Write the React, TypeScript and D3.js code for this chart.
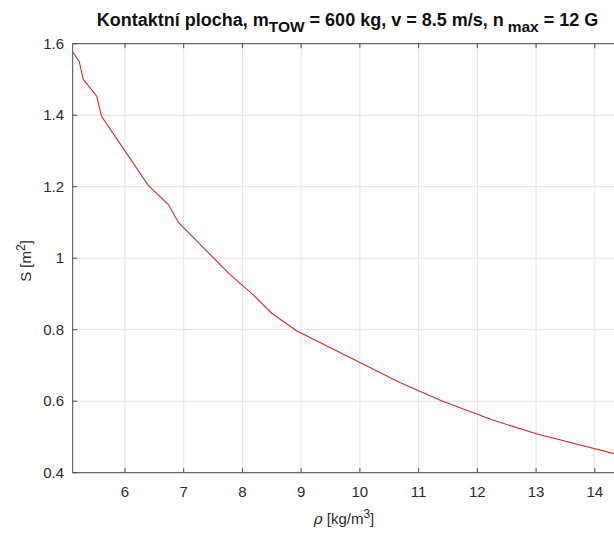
import React from "react";
import * as d3 from "d3";

const rho = [5.11, 5.22, 5.29, 5.52, 5.6, 6.4, 6.74, 6.91, 7.79, 8.18, 8.5, 8.92, 10.68, 11.41, 12.25, 13.02, 14.48];
const S = [1.576, 1.551, 1.5, 1.453, 1.397, 1.203, 1.15, 1.1, 0.954, 0.898, 0.846, 0.797, 0.652, 0.6, 0.548, 0.508, 0.447];
const xTicks = [6, 7, 8, 9, 10, 11, 12, 13, 14];
const yTicks = [0.4, 0.6, 0.8, 1.0, 1.2, 1.4, 1.6];

const W = 614;
const H = 533;
const L = 72.7;
const R = 623;
const T = 43.7;
const B = 472.7;
const FONT = "'Liberation Sans', Arial, Helvetica, sans-serif";

export default function App() {
  const x = d3.scaleLinear().domain([5.11, 14.48]).range([L, R]);
  const y = d3.scaleLinear().domain([0.4, 1.6]).range([B, T]);
  const data = rho.map((r, i) => [r, S[i]] as [number, number]);
  const line = d3
    .line<[number, number]>()
    .x((d) => x(d[0]))
    .y((d) => y(d[1]));
  const axisColor = "#4a4a4a";
  const gridColor = "#e3e3e3";
  const textColor = "#2b2b2b";
  const tick = 4.5;
  const fmt = (v: number) => (Number.isInteger(v) ? String(v) : String(+v.toFixed(1)));
  return (
    <div style={{ position: "fixed", left: 0, top: 0, width: W, height: H, background: "#fff" }}>
      <svg width={W} height={H} style={{ display: "block" }} fontFamily={FONT}>
        <rect x={0} y={0} width={W} height={H} fill="#fff" />
        {xTicks.map((t) => (
          <line key={"gx" + t} x1={x(t)} x2={x(t)} y1={T} y2={B} stroke={gridColor} strokeWidth={1} />
        ))}
        {yTicks.map((t) => (
          <line key={"gy" + t} x1={L} x2={R} y1={y(t)} y2={y(t)} stroke={gridColor} strokeWidth={1} />
        ))}
        <path d={line(data) || ""} fill="none" stroke="#d42b2b" strokeWidth={1.1} />
        <rect x={L} y={T} width={R - L} height={B - T} fill="none" stroke={axisColor} strokeWidth={1} />
        {xTicks.map((t) => (
          <g key={"tx" + t}>
            <line x1={x(t)} x2={x(t)} y1={B} y2={B - tick} stroke={axisColor} />
            <line x1={x(t)} x2={x(t)} y1={T} y2={T + tick} stroke={axisColor} />
            <text x={x(t)} y={497} textAnchor="middle" fontSize={15} fill={textColor}>
              {fmt(t)}
            </text>
          </g>
        ))}
        {yTicks.map((t) => (
          <g key={"ty" + t}>
            <line x1={L} x2={L + tick} y1={y(t)} y2={y(t)} stroke={axisColor} />
            <text x={64} y={y(t) + 5} textAnchor="end" fontSize={15} fill={textColor}>
              {fmt(t)}
            </text>
          </g>
        ))}
        <text x={344} y={524} textAnchor="middle" fontSize={15} fill={textColor}>
          <tspan fontStyle="italic" fontFamily="'DejaVu Serif', 'Liberation Serif', serif">ρ</tspan>
          <tspan> [kg/m</tspan>
          <tspan dy={-6} fontSize={12}>3</tspan>
          <tspan dy={6}>]</tspan>
        </text>
        <text transform="translate(31,261) rotate(-90)" textAnchor="middle" fontSize={15} fill={textColor}>
          <tspan>S [m</tspan>
          <tspan dy={-6} fontSize={12}>2</tspan>
          <tspan dy={6}>]</tspan>
        </text>
        <text x={347.5} y={26} textAnchor="middle" fontSize={18} fontWeight="bold" fill="#111">
          <tspan>Kontaktní plocha, m</tspan>
          <tspan dy={6} fontSize={15.5}>TOW</tspan>
          <tspan dy={-6}> = 600 kg, v = 8.5 m/s, n</tspan>
          <tspan dy={6} dx={4} fontSize={15.5}>max</tspan>
          <tspan dy={-6}> = 12 G</tspan>
        </text>
      </svg>
    </div>
  );
}
